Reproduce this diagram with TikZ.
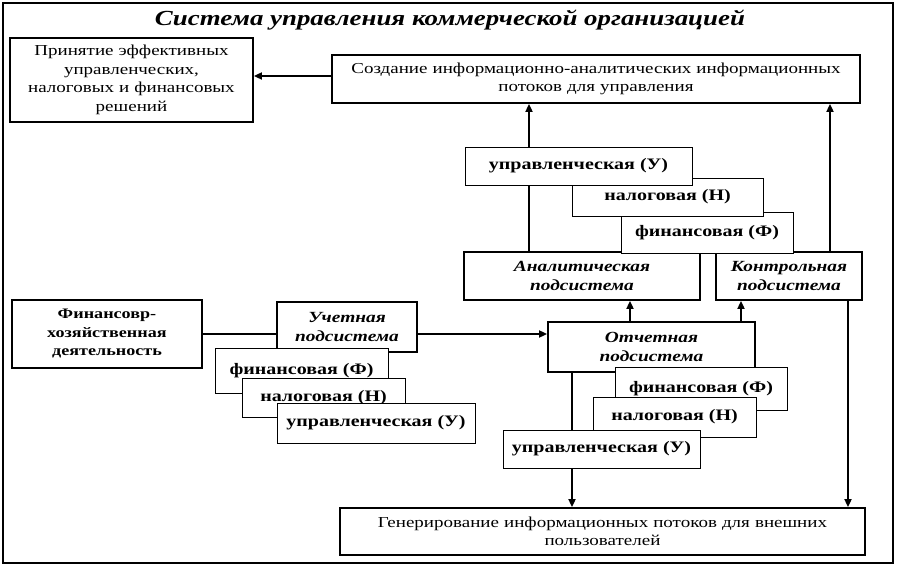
\documentclass[tikz,border=0pt]{standalone}
\usepackage{fontspec}
\setmainfont{Liberation Serif}[FakeStretch=1.25]
\usetikzlibrary{arrows.meta}
\newcommand{\bodyfs}{\fontsize{15.2}{18.5}\selectfont}
\newcommand{\finfs}{\fontsize{14.5}{18.5}\selectfont\bfseries}
\newcommand{\stackfs}{\fontsize{16}{18.5}\selectfont\bfseries}
\newcommand{\subfs}{\fontsize{15.5}{19}\selectfont\bfseries\itshape}
\begin{document}
\begin{tikzpicture}[x=1pt,y=-1pt,
  mainbox/.style={draw, line width=1.8pt, fill=white, inner sep=2pt, align=center, font=\bodyfs},
  subbox/.style={mainbox, font=\subfs},
  stackbox/.style={draw, line width=0.9pt, fill=white, inner sep=2pt, align=center, font=\stackfs},
  conn/.style={line width=1.8pt},
  arr/.style={conn, -{Triangle[length=8pt,width=7pt]}}]
\useasboundingbox (0,0) rectangle (897,569);
\draw[line width=2pt] (3,3) rectangle (893,563);
\node[font=\fontsize{21.5}{24}\selectfont\bfseries\itshape] (title) at (450,20) {Система управления коммерческой организацией};

\node[mainbox, minimum width=243pt, minimum height=84pt, text width=235pt] (A) at (131.5,80)
  {Принятие эффективных\\управленческих,\\налоговых и финансовых\\решений};
\node[mainbox, minimum width=528pt, minimum height=48pt, text width=520pt] (B) at (596,79)
  {Создание информационно-аналитических информационных\\потоков для управления};

\coordinate (xa) at (529,0);
\coordinate (xk) at (830,0);
\coordinate (xo1) at (630,0);
\coordinate (xo2) at (741,0);
\coordinate (xg1) at (572,0);
\coordinate (xg2) at (848,0);
\coordinate (ya) at (0,76);
\coordinate (yu) at (0,334);

\node[subbox, minimum width=236pt, minimum height=48pt] (An) at (582,276) {Аналитическая\\подсистема};
\node[subbox, minimum width=146pt, minimum height=48pt] (Ko) at (789,276) {Контрольная\\подсистема};

\draw[arr] (An.north -| xa) -- (B.south -| xa);
\draw[arr] (Ko.north -| xk) -- (B.south -| xk);
\draw[arr] (B.west |- ya) -- (A.east |- ya);

\node[stackbox, minimum width=172pt, minimum height=41pt] (F1) at (707,232.5) {финансовая (Ф)};
\node[stackbox, minimum width=191pt, minimum height=38pt] (N1) at (667.5,197) {налоговая (Н)};
\node[stackbox, minimum width=227pt, minimum height=38pt] (U1) at (578.5,166) {управленческая (У)};

\node[mainbox, font=\finfs, minimum width=190pt, minimum height=68pt] (Fin) at (107,334) {Финансовр-\\хозяйственная\\деятельность};
\node[subbox, minimum width=140pt, minimum height=50pt] (Uch) at (347,327) {Учетная\\подсистема};
\node[subbox, minimum width=207pt, minimum height=50pt] (Otc) at (651.5,347) {Отчетная\\подсистема};
\node[mainbox, minimum width=525pt, minimum height=47pt, text width=515pt] (Gen) at (602.5,531.5)
  {Генерирование информационных потоков для внешних\\пользователей};

\draw[conn] (Fin.east |- yu) -- (Uch.west |- yu);
\draw[arr] (Uch.east |- yu) -- (Otc.west |- yu);
\draw[arr] (Otc.north -| xo1) -- (An.south -| xo1);
\draw[arr] (Otc.north -| xo2) -- (Ko.south -| xo2);
\draw[arr] (Otc.south -| xg1) -- (Gen.north -| xg1);
\draw[arr] (Ko.south -| xg2) -- (Gen.north -| xg2);

\node[stackbox, minimum width=173pt, minimum height=45pt] (F2) at (301.5,370.5) {финансовая (Ф)};
\node[stackbox, minimum width=163pt, minimum height=39pt] (N2) at (323.5,397.5) {налоговая (Н)};
\node[stackbox, minimum width=198pt, minimum height=40pt] (U2) at (376,423) {управленческая (У)};

\node[stackbox, minimum width=172pt, minimum height=43pt] (F3) at (701,388.5) {финансовая (Ф)};
\node[stackbox, minimum width=163pt, minimum height=40pt] (N3) at (674.5,417) {налоговая (Н)};
\node[stackbox, minimum width=197pt, minimum height=38pt] (U3) at (601.5,449) {управленческая (У)};
\end{tikzpicture}
\end{document}
